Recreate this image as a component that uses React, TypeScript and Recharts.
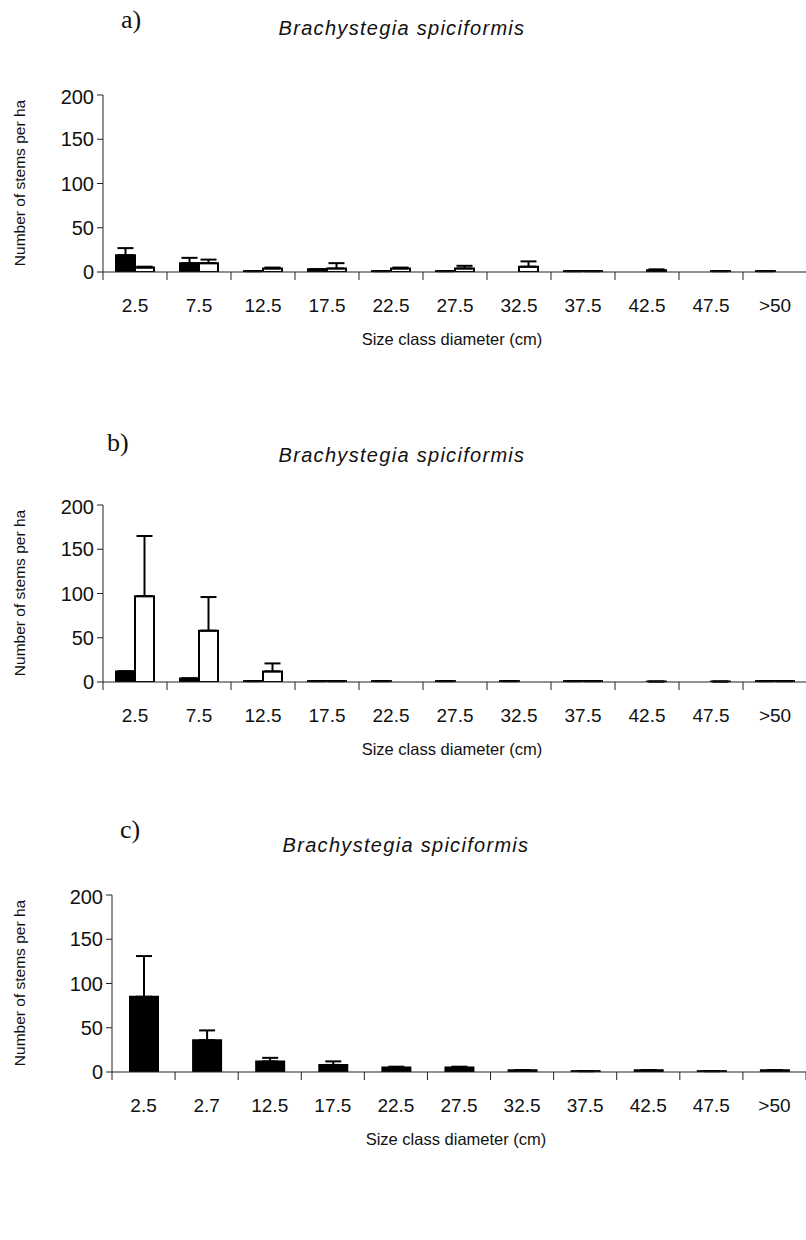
import React from 'react';
import { BarChart, Bar, XAxis, YAxis, ErrorBar } from 'recharts';

// size classes (cm)
const sizeClassesAB = ['2.5', '7.5', '12.5', '17.5', '22.5', '27.5', '32.5', '37.5', '42.5', '47.5', '>50'];
const sizeClassesC = ['2.5', '2.7', '12.5', '17.5', '22.5', '27.5', '32.5', '37.5', '42.5', '47.5', '>50'];
const yTicks = [0, 50, 100, 150, 200];

// panel a
const aBlack = [19, 10, 1, 3, 1, 1, 0, 1, 0, 0, 1];
const aBlackErr = [8, 6, 0, 0, 0, 0, 0, 0, 0, 0, 0];
const aWhite = [5, 10, 4, 4, 4, 4, 6, 1, 2, 1, 0];
const aWhiteErr = [1, 4, 1, 6, 1, 3, 6, 0, 1, 0, 0];

// panel b
const bBlack = [12, 4, 1, 1, 1, 1, 1, 1, 0, 0, 1];
const bBlackErr = [0, 0, 0, 0, 0, 0, 0, 0, 0, 0, 0];
const bWhite = [97, 58, 12, 1, 0, 0, 0, 1, 0.5, 0.5, 1];
const bWhiteErr = [68, 38, 9, 0, 0, 0, 0, 0, 0, 0, 0];

// panel c
const cBlack = [85, 36, 12, 8, 5, 5, 2, 1, 2, 1, 2];
const cBlackErr = [46, 11, 4, 4, 1, 1, 0, 0, 0, 0, 0];

const FONT = '"Liberation Sans", Arial, sans-serif';

const buildRows = (cats: string[], black: number[], blackErr: number[], white?: number[], whiteErr?: number[]) =>
  cats.map((name, i) => ({
    name,
    black: black[i],
    blackErr: [0, blackErr[i]],
    white: white ? white[i] : undefined,
    whiteErr: whiteErr ? [0, whiteErr[i]] : undefined,
  }));

const makeTick = (band: number, count: number) => (props: any) => {
  const { x, y, payload, index } = props;
  return (
    <g>
      <line x1={x - band / 2} y1={y} x2={x - band / 2} y2={y + 8} stroke="#222" strokeWidth={1} />
      {index === count - 1 && <line x1={x + band / 2} y1={y} x2={x + band / 2} y2={y + 8} stroke="#222" />}
      <text x={x} y={y + 40} textAnchor="middle" fontSize={19} fontFamily={FONT} fill="#111">
        {payload.value}
      </text>
    </g>
  );
};

interface PanelProps {
  letter: string;
  letterX: number;
  letterY: number;
  titleX: number;
  titleY: number;
  plotTop: number;
  plotLeft: number;
  plotWidth: number;
  xTitleX: number;
  rows: any[];
  hasWhite: boolean;
  barSize: number;
}

const Panel: React.FC<PanelProps> = (p) => {
  const band = p.plotWidth / p.rows.length;
  const chartTop = p.plotTop - 10;
  return (
    <>
      <div style={{ position: 'absolute', left: p.letterX, top: p.letterY, transform: 'translateY(-50%)', fontFamily: '"Liberation Serif", serif', fontSize: 26, color: '#111' }}>
        {p.letter}
      </div>
      <div style={{ position: 'absolute', left: p.titleX, top: p.titleY, transform: 'translate(-50%, -50%)', fontFamily: FONT, fontStyle: 'italic', fontSize: 20, letterSpacing: 1.3, whiteSpace: 'nowrap', color: '#111' }}>
        Brachystegia spiciformis
      </div>
      <div style={{ position: 'absolute', left: 20, top: p.plotTop + 88, transform: 'translate(-50%, -50%) rotate(-90deg)', fontFamily: FONT, fontSize: 15.5, whiteSpace: 'nowrap', color: '#111' }}>
        Number of stems per ha
      </div>
      <div style={{ position: 'absolute', left: p.xTitleX, top: p.plotTop + 244, transform: 'translate(-50%, -50%)', fontFamily: FONT, fontSize: 16.5, whiteSpace: 'nowrap', color: '#111' }}>
        Size class diameter (cm)
      </div>
      <div style={{ position: 'absolute', left: 0, top: chartTop }}>
        <BarChart
          width={806}
          height={247}
          data={p.rows}
          margin={{ top: 10, right: 806 - p.plotLeft - p.plotWidth, left: p.plotLeft - 60, bottom: 0 }}
          barGap={0}
        >
          <YAxis
            width={60}
            domain={[0, 200]}
            ticks={yTicks}
            allowDataOverflow
            tickSize={6}
            tickMargin={3}
            axisLine={{ stroke: '#222' }}
            tickLine={{ stroke: '#222' }}
            tick={{ fontSize: 20, fontFamily: FONT, fill: '#111' }}
          />
          <XAxis
            dataKey="name"
            height={60}
            tickSize={0}
            tickMargin={0}
            tickLine={false}
            interval={0}
            axisLine={{ stroke: '#222' }}
            tick={makeTick(band, p.rows.length)}
          />
          <Bar dataKey="black" fill="#000" stroke="#000" strokeWidth={2} barSize={p.barSize} isAnimationActive={false}>
            <ErrorBar dataKey="blackErr" direction="y" width={8} stroke="#000" strokeWidth={2} isAnimationActive={false} />
          </Bar>
          {p.hasWhite && (
            <Bar dataKey="white" fill="#fff" stroke="#000" strokeWidth={2} barSize={p.barSize} isAnimationActive={false}>
              <ErrorBar dataKey="whiteErr" direction="y" width={8} stroke="#000" strokeWidth={2} isAnimationActive={false} />
            </Bar>
          )}
        </BarChart>
      </div>
    </>
  );
};

const App: React.FC = () => {
  const rowsA = buildRows(sizeClassesAB, aBlack, aBlackErr, aWhite, aWhiteErr);
  const rowsB = buildRows(sizeClassesAB, bBlack, bBlackErr, bWhite, bWhiteErr);
  const rowsC = buildRows(sizeClassesC, cBlack, cBlackErr);

  return (
    <div style={{ position: 'absolute', left: 0, top: 0, width: 806, height: 1240, background: '#fff', overflow: 'hidden' }}>
      <Panel letter="a)" letterX={121} letterY={20} titleX={402} titleY={28} plotTop={95} plotLeft={103} plotWidth={704} xTitleX={452} rows={rowsA} hasWhite barSize={19} />
      <Panel letter="b)" letterX={107} letterY={443} titleX={402} titleY={455} plotTop={505} plotLeft={103} plotWidth={704} xTitleX={452} rows={rowsB} hasWhite barSize={19} />
      <Panel letter="c)" letterX={120} letterY={830} titleX={406} titleY={845} plotTop={895} plotLeft={112} plotWidth={694} xTitleX={456} rows={rowsC} hasWhite={false} barSize={28} />
    </div>
  );
};

export default App;
